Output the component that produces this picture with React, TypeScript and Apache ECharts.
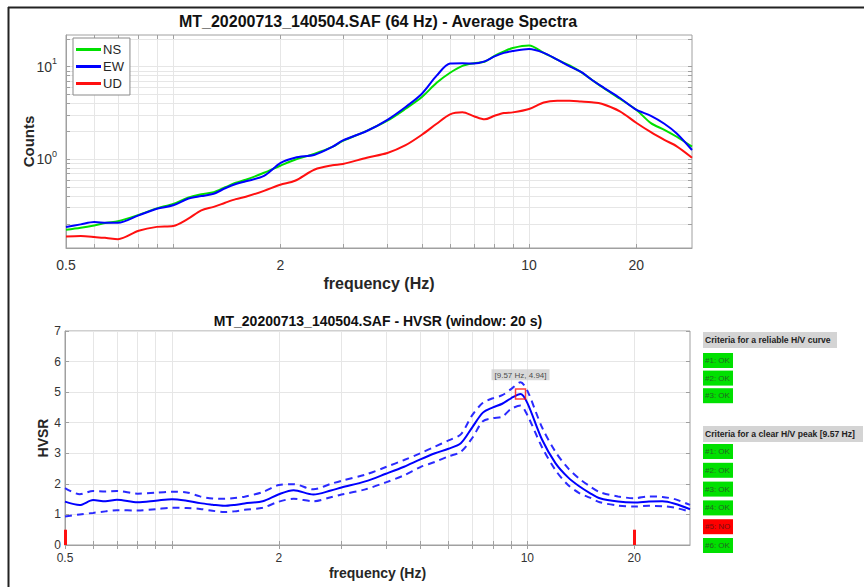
import React, { useEffect, useRef } from 'react';
import * as echarts from 'echarts';

// ---------- Top panel: average spectra ----------
const specFreqs = [0.5, 0.55, 0.6, 0.65, 0.7, 0.8, 0.9, 1.0, 1.1, 1.2, 1.3, 1.4, 1.5, 1.6, 1.8, 2.0, 2.2, 2.5, 2.8, 3.0, 3.5, 4.0, 4.5, 5.0, 5.5, 6.0, 6.5, 7.0, 7.5, 8.0, 8.5, 9.0, 10, 11, 12, 13, 14, 15, 16, 18, 20, 22, 24, 26, 28.7];
const nsCounts = [0.173, 0.182, 0.193, 0.206, 0.214, 0.251, 0.295, 0.330, 0.384, 0.419, 0.440, 0.498, 0.557, 0.600, 0.715, 0.851, 0.988, 1.15, 1.36, 1.58, 2.03, 2.61, 3.51, 4.70, 6.70, 8.60, 10.2, 10.9, 11.3, 13.1, 14.6, 15.9, 16.9, 14.1, 11.9, 10.3, 8.72, 7.23, 6.08, 4.51, 3.43, 2.46, 2.08, 1.75, 1.37];
const ewCounts = [0.185, 0.198, 0.210, 0.206, 0.206, 0.248, 0.292, 0.318, 0.374, 0.400, 0.424, 0.486, 0.540, 0.578, 0.660, 0.910, 1.04, 1.12, 1.36, 1.60, 2.02, 2.67, 3.67, 5.11, 8.00, 10.8, 10.9, 10.8, 11.4, 12.9, 14.1, 14.8, 15.5, 14.1, 11.9, 10.1, 8.77, 7.23, 6.12, 4.59, 3.43, 2.95, 2.42, 1.90, 1.26];
const udCounts = [0.146, 0.148, 0.145, 0.141, 0.137, 0.169, 0.186, 0.190, 0.227, 0.281, 0.306, 0.339, 0.371, 0.393, 0.456, 0.530, 0.586, 0.776, 0.861, 0.887, 1.04, 1.17, 1.42, 1.84, 2.42, 3.06, 3.22, 2.92, 2.70, 2.95, 3.16, 3.21, 3.49, 4.11, 4.29, 4.29, 4.21, 4.13, 3.98, 3.30, 2.48, 1.96, 1.62, 1.38, 1.04];

// ---------- Bottom panel: HVSR ----------
const hvsrFreqs = [0.5, 0.55, 0.6, 0.65, 0.7, 0.8, 0.9, 1.0, 1.1, 1.2, 1.3, 1.4, 1.5, 1.6, 1.8, 2.0, 2.2, 2.5, 2.8, 3.0, 3.5, 4.0, 4.5, 5.0, 5.5, 6.0, 6.5, 7.0, 7.5, 8.0, 8.5, 9.0, 9.57, 10, 11, 12, 13, 14, 15, 16, 18, 20, 22, 24, 26, 28.7];
const hvsrMean = [1.42, 1.31, 1.47, 1.43, 1.48, 1.40, 1.45, 1.50, 1.45, 1.37, 1.32, 1.28, 1.31, 1.36, 1.43, 1.66, 1.79, 1.65, 1.78, 1.88, 2.08, 2.33, 2.56, 2.80, 3.00, 3.15, 3.33, 3.85, 4.33, 4.50, 4.62, 4.80, 4.94, 4.65, 3.45, 2.68, 2.22, 1.92, 1.70, 1.53, 1.42, 1.39, 1.42, 1.43, 1.35, 1.17];
const hvsrUpper = [1.86, 1.66, 1.77, 1.75, 1.77, 1.68, 1.71, 1.74, 1.72, 1.59, 1.52, 1.51, 1.54, 1.58, 1.73, 1.96, 1.99, 1.82, 2.00, 2.10, 2.30, 2.55, 2.78, 3.00, 3.22, 3.42, 3.62, 4.25, 4.65, 4.80, 4.90, 5.10, 5.32, 5.05, 3.85, 3.05, 2.52, 2.17, 1.92, 1.73, 1.59, 1.53, 1.59, 1.57, 1.50, 1.31];
const hvsrLower = [0.93, 1.00, 1.05, 1.10, 1.14, 1.13, 1.17, 1.22, 1.21, 1.18, 1.12, 1.08, 1.10, 1.15, 1.22, 1.42, 1.51, 1.43, 1.56, 1.65, 1.82, 2.05, 2.28, 2.55, 2.72, 2.90, 3.05, 3.50, 4.05, 4.15, 4.20, 4.45, 4.56, 4.25, 3.20, 2.45, 1.97, 1.70, 1.55, 1.40, 1.29, 1.26, 1.28, 1.27, 1.22, 1.09];

const peakFreq = 9.57;
const peakAmp = 4.94;
const peakLabel = '[9.57 Hz, 4.94]';
const limitFreqs = [0.5, 20];
const limitHeight = 0.5;

// ---------- Axes ----------
const freqMin = 0.5;
const freqMax = 28.7;
const freqTickLabels = [0.5, 2, 10, 20];
const freqGridValues = [0.5, 0.6, 0.7, 0.8, 0.9, 1, 2, 3, 4, 5, 6, 7, 8, 9, 10, 20];
const countMin = 0.11;
const countMax = 22;
const countTickLabels = [1, 10];
const countGridValues = [0.2, 0.3, 0.4, 0.5, 0.6, 0.7, 0.8, 0.9, 1, 2, 3, 4, 5, 6, 7, 8, 9, 10, 20];
const hvsrMin = 0;
const hvsrMax = 7;

// ---------- Texts ----------
const topTitle = 'MT_20200713_140504.SAF (64 Hz) - Average Spectra';
const bottomTitle = 'MT_20200713_140504.SAF - HVSR (window: 20 s)';
const curveHeader = 'Criteria for a reliable H/V curve';
const curveCriteria = ['#1: OK', '#2: OK', '#3: OK'];
const peakHeader = 'Criteria for a clear H/V peak [9.57 Hz]';
const peakCriteria = ['#1: OK', '#2: OK', '#3: OK', '#4: OK', '#5: NO', '#6: OK'];
const peakCriteriaPass = [true, true, true, true, false, true];

const FONT = '"Liberation Sans", Arial, Helvetica, sans-serif';
const GREEN = '#00e000';
const BLUE = '#0000ff';
const RED = '#ff1010';
const GRID_LINE = '#e6e6e6';
const BOX = '#a0a0a0';
const TXT = '#262626';

function fmtFreq(v: number) {
  return String(Number(Number(v).toPrecision(3)));
}

export default function App() {
  const ref = useRef<HTMLDivElement>(null);

  useEffect(() => {
    if (!ref.current) return;
    const chart = echarts.init(ref.current, undefined, { renderer: 'svg' });

    const logX = (gridIndex: number, labelSize: number, labelMargin: number, nameGap: number, nameSize: number) => ({
      type: 'log',
      gridIndex,
      logBase: 10,
      min: freqMin,
      max: freqMax,
      name: 'frequency (Hz)',
      nameLocation: 'middle',
      nameGap,
      nameMoveOverlap: false,
      nameTextStyle: { fontFamily: FONT, fontWeight: 'bold', fontSize: nameSize, color: TXT },
      axisLine: { show: true, lineStyle: { color: BOX, width: 1 } },
      axisTick: { show: true, inside: true, length: 4, customValues: freqGridValues, lineStyle: { color: BOX } },
      axisLabel: {
        customValues: freqTickLabels,
        formatter: (v: number) => fmtFreq(v),
        fontFamily: FONT,
        fontSize: labelSize,
        color: '#333',
        margin: labelMargin,
      },
      splitLine: { show: true, lineStyle: { color: GRID_LINE, width: 1 } },
      minorTick: { show: false },
    });
    const logXTop = (gridIndex: number) => ({
      type: 'log',
      gridIndex,
      logBase: 10,
      min: freqMin,
      max: freqMax,
      position: 'top',
      axisLine: { show: false },
      axisTick: { show: true, inside: true, length: 4, customValues: freqGridValues, lineStyle: { color: BOX } },
      axisLabel: { show: false },
      splitLine: { show: false },
    });

    const option: any = {
      animation: false,
      textStyle: { fontFamily: FONT },
      title: [
        {
          text: topTitle,
          left: 378,
          top: 13,
          padding: 0,
          textAlign: 'center',
          textStyle: { fontFamily: FONT, fontWeight: 'bold', fontSize: 16, color: '#111' },
        },
        {
          text: bottomTitle,
          left: 378,
          top: 314,
          padding: 0,
          textAlign: 'center',
          textStyle: { fontFamily: FONT, fontWeight: 'bold', fontSize: 14, color: '#111' },
        },
      ],
      legend: {
        data: ['NS', 'EW', 'UD'],
        orient: 'vertical',
        left: 73,
        top: 38,
        itemWidth: 25,
        itemHeight: 3,
        itemGap: 4,
        icon: 'rect',
        padding: [5, 6, 5, 3],
        borderColor: '#8a8a8a',
        borderWidth: 1,
        backgroundColor: '#fff',
        textStyle: { fontFamily: FONT, fontSize: 13, color: TXT, padding: [0, 0, 0, -3] },
      },
      grid: [
        { left: 66, right: 172, top: 35, height: 213, show: true, borderColor: BOX, borderWidth: 1, backgroundColor: '#fff' },
        { left: 65, right: 174, top: 331, height: 214, show: true, borderColor: BOX, borderWidth: 1, backgroundColor: '#fff' },
      ],
      xAxis: [
        logX(0, 14, 10, 27, 16),
        logXTop(0),
        logX(1, 12, 7, 21, 14),
        logXTop(1),
      ],
      yAxis: [
        {
          type: 'log',
          gridIndex: 0,
          logBase: 10,
          min: countMin,
          max: countMax,
          name: 'Counts',
          nameLocation: 'middle',
          nameGap: 30,
          nameMoveOverlap: false,
          nameTextStyle: { fontFamily: FONT, fontWeight: 'bold', fontSize: 15, color: TXT },
          axisLine: { show: true, lineStyle: { color: BOX } },
          axisTick: { show: true, inside: true, length: 4, customValues: countGridValues, lineStyle: { color: BOX } },
          axisLabel: {
            customValues: countTickLabels,
            margin: 9,
            formatter: (v: number) => {
              const e = Math.round(Math.log10(v));
              return '{b|10}{s|' + e + '}';
            },
            rich: {
              b: { fontFamily: FONT, fontSize: 14, color: '#333', lineHeight: 20 },
              s: { fontFamily: FONT, fontSize: 9, color: '#333', lineHeight: 9, verticalAlign: 'top' },
            },
          },
          splitLine: { show: true, lineStyle: { color: GRID_LINE } },
        },
        {
          type: 'log',
          gridIndex: 0,
          logBase: 10,
          min: countMin,
          max: countMax,
          position: 'right',
          axisLine: { show: false },
          axisTick: { show: true, inside: true, length: 4, customValues: countGridValues, lineStyle: { color: BOX } },
          axisLabel: { show: false },
          splitLine: { show: false },
        },
        {
          type: 'value',
          gridIndex: 1,
          min: hvsrMin,
          max: hvsrMax,
          interval: 1,
          name: 'HVSR',
          nameLocation: 'middle',
          nameGap: 15,
          nameMoveOverlap: false,
          nameTextStyle: { fontFamily: FONT, fontWeight: 'bold', fontSize: 14, color: TXT },
          axisLine: { show: true, lineStyle: { color: BOX } },
          axisTick: { show: true, inside: true, length: 4, lineStyle: { color: BOX } },
          axisLabel: { fontFamily: FONT, fontSize: 12, color: '#333', margin: 4 },
          splitLine: { show: true, lineStyle: { color: GRID_LINE } },
        },
        {
          type: 'value',
          gridIndex: 1,
          min: hvsrMin,
          max: hvsrMax,
          interval: 1,
          position: 'right',
          axisLine: { show: false },
          axisTick: { show: true, inside: true, length: 4, lineStyle: { color: BOX } },
          axisLabel: { show: false },
          splitLine: { show: false },
        },
      ],
      series: [
        {
          name: 'NS',
          type: 'line',
          xAxisIndex: 0,
          yAxisIndex: 0,
          data: specFreqs.map((f, i) => [f, nsCounts[i]]),
          symbol: 'none',
          smooth: 0.3,
          lineStyle: { color: GREEN, width: 2 },
          itemStyle: { color: GREEN },
        },
        {
          name: 'EW',
          type: 'line',
          xAxisIndex: 0,
          yAxisIndex: 0,
          data: specFreqs.map((f, i) => [f, ewCounts[i]]),
          symbol: 'none',
          smooth: 0.3,
          lineStyle: { color: BLUE, width: 2 },
          itemStyle: { color: BLUE },
        },
        {
          name: 'UD',
          type: 'line',
          xAxisIndex: 0,
          yAxisIndex: 0,
          data: specFreqs.map((f, i) => [f, udCounts[i]]),
          symbol: 'none',
          smooth: 0.3,
          lineStyle: { color: RED, width: 2 },
          itemStyle: { color: RED },
        },
        {
          name: 'upper',
          type: 'line',
          xAxisIndex: 2,
          yAxisIndex: 2,
          data: hvsrFreqs.map((f, i) => [f, hvsrUpper[i]]),
          symbol: 'none',
          smooth: 0.3,
          lineStyle: { color: '#2a2aff', width: 2, type: [7, 5] },
        },
        {
          name: 'lower',
          type: 'line',
          xAxisIndex: 2,
          yAxisIndex: 2,
          data: hvsrFreqs.map((f, i) => [f, hvsrLower[i]]),
          symbol: 'none',
          smooth: 0.3,
          lineStyle: { color: '#2a2aff', width: 2, type: [7, 5] },
        },
        {
          name: 'mean',
          type: 'line',
          xAxisIndex: 2,
          yAxisIndex: 2,
          data: hvsrFreqs.map((f, i) => [f, hvsrMean[i]]),
          symbol: 'none',
          smooth: 0.3,
          lineStyle: { color: BLUE, width: 2 },
          markLine: {
            silent: true,
            symbol: ['none', 'none'],
            label: { show: false },
            lineStyle: { color: RED, width: 3, type: 'solid' },
            data: limitFreqs.map((f) => [{ coord: [f, 0] }, { coord: [f, limitHeight] }]),
          },
          z: 4,
        },
        {
          name: 'peak',
          type: 'scatter',
          xAxisIndex: 2,
          yAxisIndex: 2,
          data: [[peakFreq, peakAmp]],
          symbol: 'rect',
          symbolSize: 10,
          itemStyle: { color: 'rgba(0,0,0,0)', borderColor: RED, borderWidth: 1.5 },
          label: {
            show: true,
            position: 'top',
            distance: 8,
            formatter: peakLabel,
            backgroundColor: '#cfcfcf',
            padding: [2, 3, 1, 3],
            fontFamily: FONT,
            fontSize: 8,
            color: '#222',
          },
          z: 6,
        },
      ],
      graphic: [
        { type: 'line', shape: { x1: 8.5, y1: 7, x2: 8.5, y2: 587 }, style: { stroke: '#222', lineWidth: 2 } },
        { type: 'line', shape: { x1: 8, y1: 7.5, x2: 864, y2: 7.5 }, style: { stroke: '#222', lineWidth: 2 } },
        { type: 'rect', shape: { x: 703, y: 332, width: 134, height: 16 }, style: { fill: '#d4d4d4' } },
        { type: 'text', x: 705, y: 340, style: { text: curveHeader, fontFamily: FONT, fontSize: 8.6, fontWeight: 'bold', fill: '#222', verticalAlign: 'middle' } },
        ...curveCriteria.flatMap((t, i) => [
          { type: 'rect', shape: { x: 703, y: 353 + i * 17.6, width: 30, height: 15 }, style: { fill: GREEN } },
          { type: 'text', x: 705, y: 360.5 + i * 17.6, style: { text: t, fontFamily: FONT, fontSize: 8, fill: '#226622', verticalAlign: 'middle' } },
        ]),
        { type: 'rect', shape: { x: 703, y: 426, width: 160, height: 16 }, style: { fill: '#d4d4d4' } },
        { type: 'text', x: 705, y: 434, style: { text: peakHeader, fontFamily: FONT, fontSize: 8.6, fontWeight: 'bold', fill: '#222', verticalAlign: 'middle' } },
        ...peakCriteria.flatMap((t, i) => [
          { type: 'rect', shape: { x: 703, y: 444 + i * 18.8, width: 30, height: 15 }, style: { fill: peakCriteriaPass[i] ? GREEN : '#ff0000' } },
          { type: 'text', x: 705, y: 451.5 + i * 18.8, style: { text: t, fontFamily: FONT, fontSize: 8, fill: peakCriteriaPass[i] ? '#226622' : '#771111', verticalAlign: 'middle' } },
        ]),
      ],
    };

    chart.setOption(option);
    return () => chart.dispose();
  }, []);

  return <div ref={ref} style={{ position: 'absolute', left: 0, top: 0, width: 864, height: 587, background: '#fff' }} />;
}
